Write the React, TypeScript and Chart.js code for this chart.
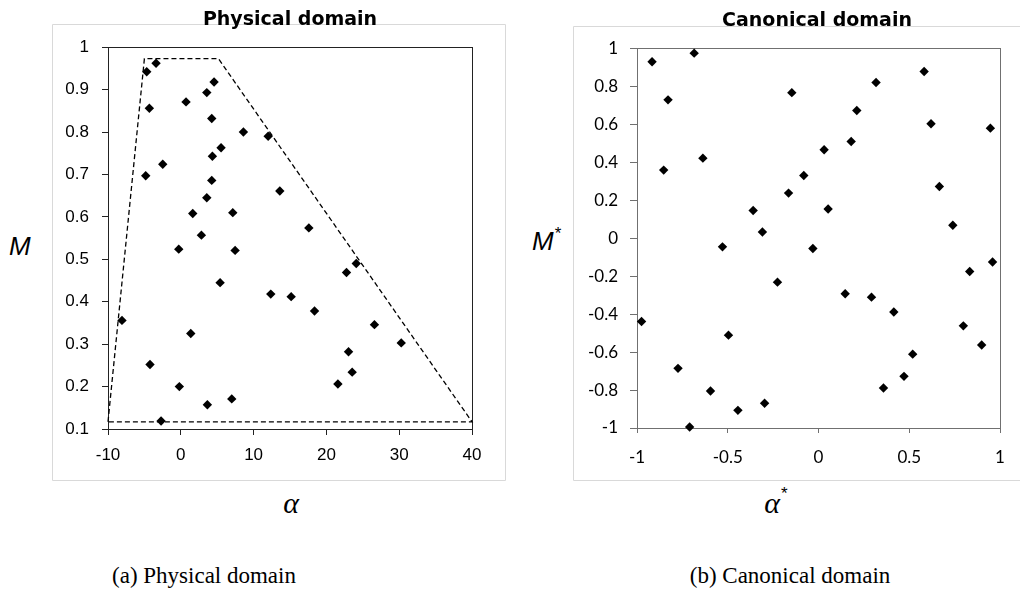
import React, { useEffect, useRef } from "react";
import { Chart, registerables } from "chart.js";
Chart.register(...registerables);

// ---------- Data: Physical domain ----------
const physAlpha = [
  -4.68, -3.4, -4.32, 0.72, 3.57, 4.57, 4.25, 8.6, 12.0, 5.53,
  4.34, -2.48, -4.82, 4.25, 13.6, 3.57, 1.64, 7.14, 17.59, 2.83,
  -0.28, 7.46, 24.1, 22.76, 5.4, 12.36, 15.16, 18.37, -8.08, 26.6,
  1.37, 30.28, 23.04, -4.23, 23.54, 21.58, -0.2, 7.0, 3.65, -2.71,
];
const physM = [
  0.942, 0.962, 0.856, 0.871, 0.893, 0.918, 0.832, 0.8, 0.79, 0.763,
  0.743, 0.724, 0.697, 0.686, 0.661, 0.645, 0.608, 0.61, 0.574, 0.557,
  0.524, 0.521, 0.49, 0.469, 0.445, 0.418, 0.412, 0.378, 0.356, 0.346,
  0.325, 0.303, 0.282, 0.252, 0.234, 0.206, 0.2, 0.171, 0.157, 0.119,
];
const boundaryAlpha = [-10, -5, 5.17, 40, -10];
const boundaryM = [0.117, 0.973, 0.973, 0.117, 0.117];
const physXTicks = [-10, 0, 10, 20, 30, 40];
const physYTicks = [0.1, 0.2, 0.3, 0.4, 0.5, 0.6, 0.7, 0.8, 0.9, 1];

// ---------- Data: Canonical domain ----------
const canonAlpha = [
  -0.917, -0.685, -0.829, 0.582, 0.317, -0.147, 0.211, 0.62, 0.947, 0.18,
  0.031, -0.637, -0.853, -0.081, 0.666, -0.165, 0.053, -0.36, 0.74, -0.309,
  -0.529, -0.031, 0.959, 0.833, -0.226, 0.147, 0.292, 0.415, -0.975, 0.798,
  -0.496, 0.899, 0.519, -0.774, 0.471, 0.358, -0.595, -0.297, -0.444, -0.71,
];
const canonM = [
  0.929, 0.974, 0.728, 0.877, 0.819, 0.766, 0.672, 0.602, 0.579, 0.509,
  0.465, 0.421, 0.358, 0.33, 0.272, 0.237, 0.153, 0.145, 0.068, 0.032,
  -0.046, -0.055, -0.126, -0.176, -0.232, -0.293, -0.311, -0.389, -0.439, -0.462,
  -0.511, -0.563, -0.611, -0.686, -0.728, -0.789, -0.805, -0.87, -0.907, -0.995,
];
const canonXTicks = [-1, -0.5, 0, 0.5, 1];
const canonYTicks = [-1, -0.8, -0.6, -0.4, -0.2, 0, 0.2, 0.4, 0.6, 0.8, 1];

const fmt = (v: number) => String(parseFloat(Number(v).toFixed(2)));

function framePlugin(plotColor: string, drawRight: boolean) {
  return {
    id: "frame",
    beforeDraw(chart: any) {
      const ctx = chart.ctx;
      const w = chart.width;
      const h = chart.height;
      ctx.save();
      ctx.strokeStyle = "#d9d9d9";
      ctx.lineWidth = 1;
      ctx.beginPath();
      ctx.moveTo(drawRight ? w - 0.5 : w + 5, 0.5);
      ctx.lineTo(0.5, 0.5);
      ctx.lineTo(0.5, h - 0.5);
      ctx.lineTo(drawRight ? w - 0.5 : w + 5, h - 0.5);
      if (drawRight) ctx.lineTo(w - 0.5, 0.5);
      ctx.stroke();
      ctx.restore();
    },
    beforeDatasetsDraw(chart: any) {
      const { left, right, top, bottom } = chart.chartArea;
      const ctx = chart.ctx;
      ctx.save();
      ctx.strokeStyle = plotColor;
      ctx.lineWidth = 1;
      const l = Math.round(left) + 0.5;
      const r = Math.round(right) + 0.5;
      const t = Math.round(top) + 0.5;
      const b = Math.round(bottom) + 0.5;
      ctx.strokeRect(l, t, r - l, b - t);
      ctx.restore();
    },
  };
}

type PanelCfg = {
  xs: number[];
  ys: number[];
  line?: { xs: number[]; ys: number[] };
  xMin: number; xMax: number; yMin: number; yMax: number;
  xTicks: number[]; yTicks: number[];
  width: number; height: number;
  pad: { top: number; right: number };
  yWidth: number; xHeight: number;
  font: string; fontSize: number;
  axisColor: string; drawRight: boolean;
  yTickLen: number; xTickLen: number; yPad: number; xPad: number;
};

function Panel({ cfg, left, top }: { cfg: PanelCfg; left: number; top: number }) {
  const ref = useRef<HTMLCanvasElement | null>(null);
  useEffect(() => {
    if (!ref.current) return;
    const datasets: any[] = [
      {
        data: cfg.xs.map((x, i) => ({ x, y: cfg.ys[i] })),
        pointStyle: "rectRot",
        pointRadius: 4.7,
        backgroundColor: "#000",
        borderColor: "#000",
        borderWidth: 0,
        showLine: false,
        clip: false,
      },
    ];
    if (cfg.line) {
      datasets.push({
        data: cfg.line.xs.map((x, i) => ({ x, y: cfg.line!.ys[i] })),
        showLine: true,
        pointRadius: 0,
        borderColor: "#000",
        borderWidth: 1.3,
        borderDash: [5, 3],
        fill: false,
        tension: 0,
        clip: false,
      });
    }
    const tickFont = { family: cfg.font, size: cfg.fontSize };
    const chart = new Chart(ref.current, {
      type: "scatter",
      data: { datasets },
      options: {
        animation: false,
        responsive: false,
        devicePixelRatio: 1,
        layout: { padding: { top: cfg.pad.top, right: cfg.pad.right, left: 0, bottom: 0 } },
        plugins: { legend: { display: false }, tooltip: { enabled: false }, title: { display: false } },
        scales: {
          x: {
            type: "linear",
            min: cfg.xMin,
            max: cfg.xMax,
            afterBuildTicks: (s: any) => { s.ticks = cfg.xTicks.map((v) => ({ value: v })); },
            afterFit: (s: any) => { s.height = cfg.xHeight; },
            ticks: { font: tickFont, color: "#000", padding: cfg.xPad, maxRotation: 0, autoSkip: false, callback: (v: any) => fmt(v) },
            grid: { display: true, drawOnChartArea: false, drawTicks: true, tickLength: cfg.xTickLen, color: cfg.axisColor },
            border: { display: false },
          },
          y: {
            type: "linear",
            min: cfg.yMin,
            max: cfg.yMax,
            afterBuildTicks: (s: any) => { s.ticks = cfg.yTicks.map((v) => ({ value: v })); },
            afterFit: (s: any) => { s.width = cfg.yWidth; },
            ticks: { font: tickFont, color: "#000", padding: cfg.yPad, autoSkip: false, callback: (v: any) => fmt(v) },
            grid: { display: true, drawOnChartArea: false, drawTicks: true, tickLength: cfg.yTickLen, color: cfg.axisColor },
            border: { display: false },
          },
        },
      } as any,
      plugins: [framePlugin(cfg.axisColor, cfg.drawRight)],
    });
    return () => chart.destroy();
  }, []);
  return (
    <canvas
      ref={ref}
      width={cfg.width}
      height={cfg.height}
      style={{ position: "absolute", left, top, width: cfg.width, height: cfg.height }}
    />
  );
}

const physCfg: PanelCfg = {
  xs: physAlpha, ys: physM,
  line: { xs: boundaryAlpha, ys: boundaryM },
  xMin: -10, xMax: 40, yMin: 0.1, yMax: 1,
  xTicks: physXTicks, yTicks: physYTicks,
  width: 454, height: 457,
  pad: { top: 23, right: 34 },
  yWidth: 56, xHeight: 52,
  font: "'Liberation Sans', Arial, sans-serif", fontSize: 17,
  axisColor: "#222", drawRight: true,
  yTickLen: 6, xTickLen: 6, yPad: 13, xPad: 10,
};

const canonCfg: PanelCfg = {
  xs: canonAlpha, ys: canonM,
  xMin: -1, xMax: 1, yMin: -1, yMax: 1,
  xTicks: canonXTicks, yTicks: canonYTicks,
  width: 447, height: 455,
  pad: { top: 22, right: 20 },
  yWidth: 64, xHeight: 53,
  font: "Lato, 'Open Sans', sans-serif", fontSize: 17,
  axisColor: "#707070", drawRight: false,
  yTickLen: 7, xTickLen: 5, yPad: 12, xPad: 14,
};

const abs = (l: number, t: number, extra: React.CSSProperties = {}): React.CSSProperties => ({
  position: "absolute",
  left: l,
  top: t,
  whiteSpace: "nowrap",
  lineHeight: 1,
  ...extra,
});

export default function App() {
  useEffect(() => {
    document.body.style.overflow = "hidden";
  }, []);
  const titleStyle: React.CSSProperties = {
    fontFamily: "'DejaVu Sans', sans-serif",
    fontWeight: "bold",
    fontSize: 19,
    color: "#000",
    transform: "translateX(-50%)",
  };
  const axisStyle: React.CSSProperties = {
    fontFamily: "'Liberation Sans', Arial, sans-serif",
    fontStyle: "italic",
    fontSize: 26,
    color: "#000",
  };
  const alphaStyle: React.CSSProperties = {
    fontFamily: "'Liberation Serif', 'DejaVu Serif', serif",
    fontStyle: "italic",
    fontSize: 30,
    color: "#000",
    transform: "translateX(-50%)",
  };
  const capStyle: React.CSSProperties = {
    fontFamily: "'Liberation Serif', serif",
    fontSize: 23,
    color: "#000",
    transform: "translateX(-50%)",
  };
  const starStyle: React.CSSProperties = {
    fontSize: 17,
    fontStyle: "normal",
    fontFamily: "'Liberation Sans', sans-serif",
    verticalAlign: "top",
    position: "relative",
    top: -3,
    marginLeft: 1,
  };
  return (
    <div>
      <Panel cfg={physCfg} left={52} top={24} />
      <Panel cfg={canonCfg} left={573} top={26} />
      <div style={abs(290, 9, titleStyle)}>Physical domain</div>
      <div style={abs(817, 10, titleStyle)}>Canonical domain</div>
      <div style={abs(9, 233, axisStyle)}>M</div>
      <div style={abs(532, 228, axisStyle)}>
        M<span style={starStyle}>*</span>
      </div>
      <div style={abs(291, 488, alphaStyle)}>α</div>
      <div style={abs(776, 488, alphaStyle)}>
        α<span style={starStyle}>*</span>
      </div>
      <div style={abs(204, 564, capStyle)}>(a) Physical domain</div>
      <div style={abs(790, 564, capStyle)}>(b) Canonical domain</div>
    </div>
  );
}
